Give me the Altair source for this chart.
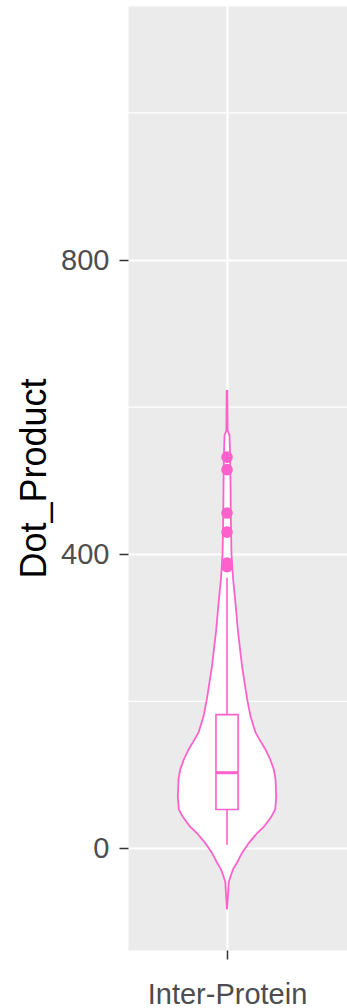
import altair as alt
import pandas as pd

# Violin outline: value along Dot_Product and the half-width of the density (x-axis units)
violin_value = [-83, -70, -55, -46, -38, -28, -19, -6, 8, 21, 30, 43, 53, 70, 94, 107,
                121, 135, 148, 158, 180, 203, 248, 294, 339, 366, 400, 450, 500, 540,
                562, 568, 622]
violin_half = [0.000, 0.004, 0.008, 0.010, 0.021, 0.037, 0.061, 0.091, 0.134, 0.183,
               0.225, 0.268, 0.292, 0.298, 0.294, 0.284, 0.262, 0.232, 0.197, 0.172,
               0.142, 0.122, 0.091, 0.067, 0.049, 0.037, 0.027, 0.023, 0.021, 0.018,
               0.015, 0.004, 0.002]

# Box-plot summary
box_q1, box_median, box_q3 = 53, 103, 182
whisker_low, whisker_high = 5, 368
box_half = 0.067
outliers = [383, 388, 430, 456, 515, 532]

category = "Inter-Protein"
major_breaks = [0, 400, 800]
minor_breaks = [200, 600, 1000]

PINK = "#FF61CC"
FONT = "Liberation Sans"

yscale = alt.Scale(domain=[-138, 1145.3], nice=False, zero=False)
xscale = alt.Scale(domain=[-0.6, 0.727], nice=False, zero=False)


def y_enc(field, **kw):
    return alt.Y(field, type="quantitative", scale=yscale,
                 axis=alt.Axis(values=major_breaks, title="Dot_Product",
                               titleX=-83, titleY=472, titleAngle=-90,
                               titleAlign="center", titleBaseline="alphabetic"),
                 **kw)


def x_enc(field):
    return alt.X(field, type="quantitative", scale=xscale,
                 axis=alt.Axis(values=[0], labelExpr=f"'{category}'", title=None))


violin_df = pd.DataFrame({
    "value": violin_value,
    "lo": [-h for h in violin_half],
    "hi": violin_half,
})
box_df = pd.DataFrame({"lo": [-box_half], "hi": [box_half], "q1": [box_q1],
                       "q3": [box_q3], "median": [box_median], "c": [0]})
whisk_df = pd.DataFrame({"c": [0, 0], "y1": [whisker_low, box_q3], "y2": [box_q1, whisker_high]})
out_df = pd.DataFrame({"c": [0] * len(outliers), "value": outliers})
minor_df = pd.DataFrame({"value": minor_breaks})

minor_grid = alt.Chart(minor_df).mark_rule(color="white", strokeWidth=1.1).encode(
    y=y_enc("value")
)

violin = alt.Chart(violin_df).mark_area(
    orient="horizontal", fill="white", stroke=PINK, strokeWidth=1.8, opacity=1
).encode(
    y=y_enc("value"), x=x_enc("lo"), x2="hi"
)

whiskers = alt.Chart(whisk_df).mark_rule(color=PINK, strokeWidth=1.6).encode(
    x=x_enc("c"), y=y_enc("y1"), y2="y2"
)

box = alt.Chart(box_df).mark_rect(fill="white", stroke=PINK, strokeWidth=1.6).encode(
    x=x_enc("lo"), x2="hi", y=y_enc("q1"), y2="q3"
)

median = alt.Chart(box_df).mark_rule(color=PINK, strokeWidth=3).encode(
    x=x_enc("lo"), x2="hi", y=y_enc("median")
)

points = alt.Chart(out_df).mark_circle(color=PINK, size=135, opacity=1).encode(
    x=x_enc("c"), y=y_enc("value")
)

chart = alt.layer(minor_grid, violin, whiskers, box, median, points).properties(
    width=219, height=944,
    autosize=alt.AutoSizeParams(type="none"),
    padding={"left": 128, "top": 6, "right": 0, "bottom": 58},
    background="white",
).configure_view(
    fill="#EBEBEB", stroke="transparent"
).configure_axis(
    domain=False,
    grid=True, gridColor="white", gridWidth=2.2,
    ticks=True, tickColor="#333333", tickWidth=1.5, tickSize=9,
    labelFont=FONT, labelFontSize=29, labelColor="#4D4D4D",
    titleFont=FONT, titleFontSize=36, titleColor="black", titleFontWeight="normal",
).configure_axisY(
    labelPadding=10, labelBaseline="middle"
).configure_axisX(
    labelPadding=44, labelBaseline="alphabetic"
)

chart.save("out.html", embed_options={"renderer": "svg", "actions": False})
